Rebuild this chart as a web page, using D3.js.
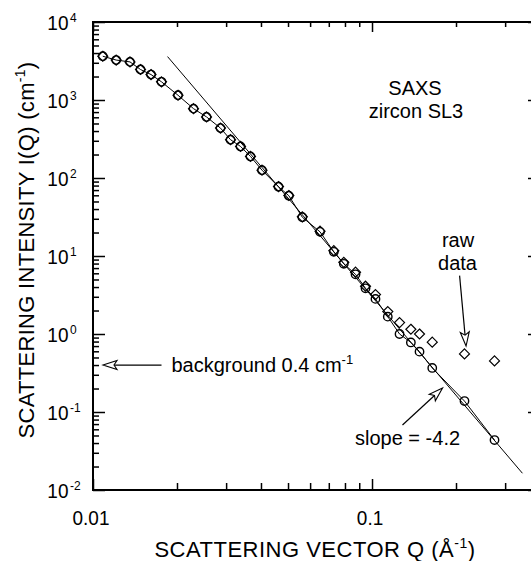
<!DOCTYPE html>
<html>
<head>
<meta charset="utf-8">
<script src="https://cdn.jsdelivr.net/npm/d3@7"></script>
<style>
  html, body { margin: 0; padding: 0; background: #fff; }
  svg { display: block; }
  text { font-family: "Liberation Sans", Arial, Helvetica, sans-serif; fill: #000; }
</style>
</head>
<body>
<svg id="chart" width="531" height="561"></svg>
<script>
// Scattering vector Q (1/Å) of each measured point
const q = [0.01084, 0.01211, 0.01357, 0.01480, 0.01614, 0.01760, 0.02017, 0.02292,
           0.02552, 0.02864, 0.03111, 0.03379, 0.03668, 0.04034, 0.04622, 0.05033,
           0.05627, 0.06512, 0.07297, 0.07924, 0.08728, 0.09478, 0.1029, 0.1139,
           0.1255, 0.1378, 0.1480, 0.1644, 0.2145, 0.2748];

// Intensity after background subtraction (1/cm)
const iCorrected = [3640, 3250, 3080, 2460, 2120, 1710, 1150, 775,
                    607, 436, 310, 254, 189, 126, 77.3, 59.3,
                    31.4, 20.4, 11.3, 7.94, 5.82, 3.85, 2.82, 1.67,
                    1.00, 0.780, 0.594, 0.367, 0.138, 0.0437];

// Raw intensity as measured (1/cm)
const iRaw = [3640, 3250, 3080, 2460, 2120, 1710, 1150, 775,
              607, 436, 310, 254, 189, 126, 77.7, 59.7,
              31.8, 20.8, 11.7, 8.3, 6.2, 4.1, 3.2, 1.94,
              1.40, 1.15, 1.00, 0.785, 0.555, 0.452];

// Flat background level and power-law (Porod) fit I = A * Q^slope
const background = 0.4;
const porodSlope = -4.2;
const porodPrefactor = 1.9e-4;
const porodQRange = [0.0185, 0.346];

// Axis domains and labelled ticks
const qDomain = [0.01, 0.4];
const iDomain = [1e-2, 1e4];
const xLabelValues = [0.01, 0.1];
const xLabelTexts = ["0.01", "0.1"];
const yLabelExponents = [-2, -1, 0, 1, 2, 3, 4];

const svg = d3.select("#chart");
const plotLeft = 93, plotRight = 540, plotTop = 22, plotBottom = 490;

const x = d3.scaleLog().domain(qDomain).range([plotLeft, plotRight]);
const y = d3.scaleLog().domain(iDomain).range([plotBottom, plotTop]);

// Major / minor tick values
const xMajor = [0.01, 0.1];
const xMinor = [];
for (let d = 0.01; d < 0.4; d *= 10) {
  for (let m = 2; m <= 9; m++) { const v = m * d; if (v < 0.4 - 1e-9) xMinor.push(+v.toPrecision(3)); }
}
const yMajor = yLabelExponents.map(e => Math.pow(10, e));
const yMinor = [];
for (let e = -2; e < 4; e++) {
  for (let m = 2; m <= 9; m++) yMinor.push(m * Math.pow(10, e));
}

function tickAxis(axisFn, scale, values, size, transform) {
  const g = svg.append("g")
    .attr("transform", transform)
    .call(axisFn(scale).tickValues(values).tickSize(size).tickSizeOuter(0).tickFormat(""));
  g.select(".domain").remove();
  g.selectAll(".tick line").attr("stroke", "#000").attr("stroke-width", 1.5);
  return g;
}

// Ticks pointing inward on all four sides
tickAxis(d3.axisBottom, x, xMajor, -11, `translate(0,${plotBottom})`);
tickAxis(d3.axisBottom, x, xMinor, -7, `translate(0,${plotBottom})`);
tickAxis(d3.axisTop, x, xMajor, -10, `translate(0,${plotTop})`);
tickAxis(d3.axisTop, x, xMinor, -5, `translate(0,${plotTop})`);
tickAxis(d3.axisLeft, y, yMajor, -12, `translate(${plotLeft},0)`);
tickAxis(d3.axisLeft, y, yMinor, -6, `translate(${plotLeft},0)`);
tickAxis(d3.axisRight, y, yMajor, -12, `translate(${plotRight},0)`);
tickAxis(d3.axisRight, y, yMinor, -6, `translate(${plotRight},0)`);

// Plot frame
svg.append("rect")
  .attr("x", plotLeft).attr("y", plotTop)
  .attr("width", plotRight - plotLeft).attr("height", plotBottom - plotTop)
  .attr("fill", "none").attr("stroke", "#000").attr("stroke-width", 2);

// Tick labels
xLabelValues.forEach((v, i) => {
  svg.append("g")
    .attr("transform", `translate(${x(v) - 2},525) scale(1,1.1)`)
    .append("text")
    .attr("text-anchor", "middle")
    .attr("font-size", 19)
    .text(xLabelTexts[i]);
});
yLabelExponents.forEach(e => {
  const g = svg.append("g")
    .attr("transform", `translate(68.5,${y(Math.pow(10, e)) + 7.5}) scale(1,1.1)`);
  g.append("text").attr("text-anchor", "end").attr("font-size", 19).text("10");
  g.append("text").attr("x", 1.5).attr("y", -7).attr("font-size", 12).text(String(e));
});

// Axis titles
function titleText(sel, main, sup, tail) {
  sel.append("tspan").text(main);
  sel.append("tspan").attr("font-size", 14).attr("dy", -9).text(sup);
  sel.append("tspan").attr("dy", 9).text(tail);
}
const xt = svg.append("text")
  .attr("x", 315).attr("y", 557)
  .attr("text-anchor", "middle")
  .attr("font-size", 22)
  .attr("letter-spacing", 0.5);
titleText(xt, "SCATTERING VECTOR Q (Å", "-1", ")");

const yt = svg.append("text")
  .attr("transform", "translate(33.5,250) rotate(-90)")
  .attr("text-anchor", "middle")
  .attr("font-size", 22)
  .attr("letter-spacing", 0.3);
titleText(yt, "SCATTERING INTENSITY I(Q) (cm", "-1", ")");

// Power-law fit line
const porodPts = porodQRange.map(v => [v, porodPrefactor * Math.pow(v, porodSlope)]);
svg.append("path")
  .attr("d", d3.line().x(d => x(d[0])).y(d => y(d[1]))(porodPts))
  .attr("fill", "none").attr("stroke", "#000").attr("stroke-width", 1);

// Line joining the corrected points
const corrPts = q.map((v, i) => [v, iCorrected[i]]);
svg.append("path")
  .attr("d", d3.line().x(d => x(d[0])).y(d => y(d[1]))(corrPts))
  .attr("fill", "none").attr("stroke", "#000").attr("stroke-width", 1);

// Raw data: diamonds
svg.append("g").selectAll("path")
  .data(q.map((v, i) => [v, iRaw[i]]))
  .join("path")
  .attr("d", d => {
    const cx = x(d[0]), cy = y(d[1]), h = 5;
    return `M${cx},${cy - h}L${cx + h},${cy}L${cx},${cy + h}L${cx - h},${cy}Z`;
  })
  .attr("fill", "none").attr("stroke", "#000").attr("stroke-width", 1.2);

// Background-subtracted data: circles
svg.append("g").selectAll("circle")
  .data(corrPts)
  .join("circle")
  .attr("cx", d => x(d[0])).attr("cy", d => y(d[1]))
  .attr("r", 4.2)
  .attr("fill", "none").attr("stroke", "#000").attr("stroke-width", 1.4);

// Annotation arrows with open heads
function arrow(from, to) {
  const x1 = x(from[0]), y1 = y(from[1]), x2 = x(to[0]), y2 = y(to[1]);
  const len = Math.hypot(x2 - x1, y2 - y1);
  const ux = (x2 - x1) / len, uy = (y2 - y1) / len;
  const L = 14, w = 4.5;
  const bx = x2 - ux * L, by = y2 - uy * L;
  svg.append("line")
    .attr("x1", x1).attr("y1", y1).attr("x2", bx + ux * 3).attr("y2", by + uy * 3)
    .attr("stroke", "#000").attr("stroke-width", 1.2);
  svg.append("path")
    .attr("d", `M${x2},${y2}L${bx - uy * w},${by + ux * w}L${bx + ux * 3},${by + uy * 3}L${bx + uy * w},${by - ux * w}Z`)
    .attr("fill", "#fff").attr("stroke", "#000").attr("stroke-width", 1.1);
}
arrow([0.0176, background], [0.01086, background]);
arrow([0.206, 5.6], [0.2173, 0.70]);
arrow([0.1286, 0.068], [0.179, 0.203]);

// Annotation text
function note(tx, ty, anchor, txt) {
  return svg.append("text").attr("x", tx).attr("y", ty)
    .attr("text-anchor", anchor).attr("font-size", 20).text(txt);
}
note(415, 94.5, "middle", "SAXS");
note(416, 117.5, "middle", "zircon SL3");
note(458, 247, "middle", "raw");
note(457.5, 270, "middle", "data");
note(355, 445, "start", "slope = -4.2");
const bg = note(171.5, 372, "start", "background 0.4 cm");
bg.append("tspan").attr("font-size", 13).attr("dy", -8).text("-1");
</script>
</body>
</html>
